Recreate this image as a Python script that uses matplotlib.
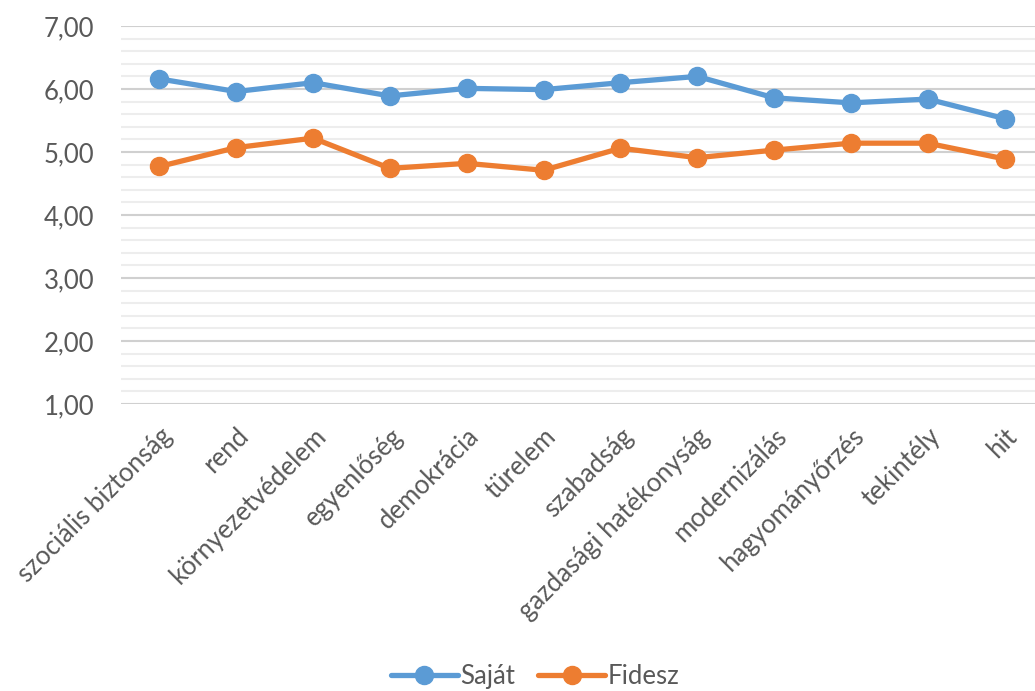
import matplotlib
matplotlib.use('Agg')
import matplotlib.pyplot as plt
from matplotlib.ticker import MultipleLocator, FuncFormatter

plt.rcParams['font.family'] = ['Lato', 'DejaVu Sans']

categories = ['szociális biztonság', 'rend', 'környezetvédelem', 'egyenlőség',
              'demokrácia', 'türelem', 'szabadság', 'gazdasági hatékonyság',
              'modernizálás', 'hagyományőrzés', 'tekintély', 'hit']
sajat = [6.16, 5.96, 6.10, 5.89, 6.01, 5.99, 6.10, 6.20, 5.86, 5.78, 5.84, 5.53]
fidesz = [4.77, 5.07, 5.22, 4.74, 4.82, 4.71, 5.06, 4.91, 5.03, 5.14, 5.14, 4.89]

blue = '#5B9BD5'
orange = '#ED7D31'
grey = '#595959'

fig = plt.figure(figsize=(10.35, 6.91), dpi=100)
ax = fig.add_axes([121 / 1035, 1 - 404 / 691, 922 / 1035, 378 / 691])

x = list(range(len(categories)))
ax.plot(x, sajat, color=blue, lw=3.8, marker='o', ms=13, label='Saját',
        solid_capstyle='round', zorder=3)
ax.plot(x, fidesz, color=orange, lw=3.8, marker='o', ms=13, label='Fidesz',
        solid_capstyle='round', zorder=3)

ax.set_xlim(-0.5, len(categories) - 0.5)
ax.set_ylim(1, 7)
ax.yaxis.set_major_locator(MultipleLocator(1))
ax.yaxis.set_minor_locator(MultipleLocator(0.2))
ax.yaxis.set_major_formatter(FuncFormatter(lambda v, p: f'{v:.2f}'.replace('.', ',')))
ax.grid(which='major', axis='y', color='#D0D0D0', lw=1.5, zorder=0)
ax.grid(which='minor', axis='y', color='#EDEDED', lw=1.5, zorder=0)
ax.set_axisbelow(True)
for s in ax.spines.values():
    s.set_visible(False)
ax.tick_params(which='both', length=0)
ax.tick_params(axis='y', labelsize=18.5, labelcolor=grey, pad=19)

ax.set_xticks(x)
ax.set_xticklabels(categories, rotation=45, ha='right', va='top',
                   rotation_mode='anchor', fontsize=18.5, color=grey)
ax.tick_params(axis='x', pad=14)

leg = fig.legend(loc='lower center', bbox_to_anchor=(0.517, -0.03), ncol=2,
                 frameon=False, fontsize=18.5, handlelength=2.6,
                 columnspacing=0.9, handletextpad=0.1)
for t in leg.get_texts():
    t.set_color(grey)

fig.savefig('out.png', dpi=100)
